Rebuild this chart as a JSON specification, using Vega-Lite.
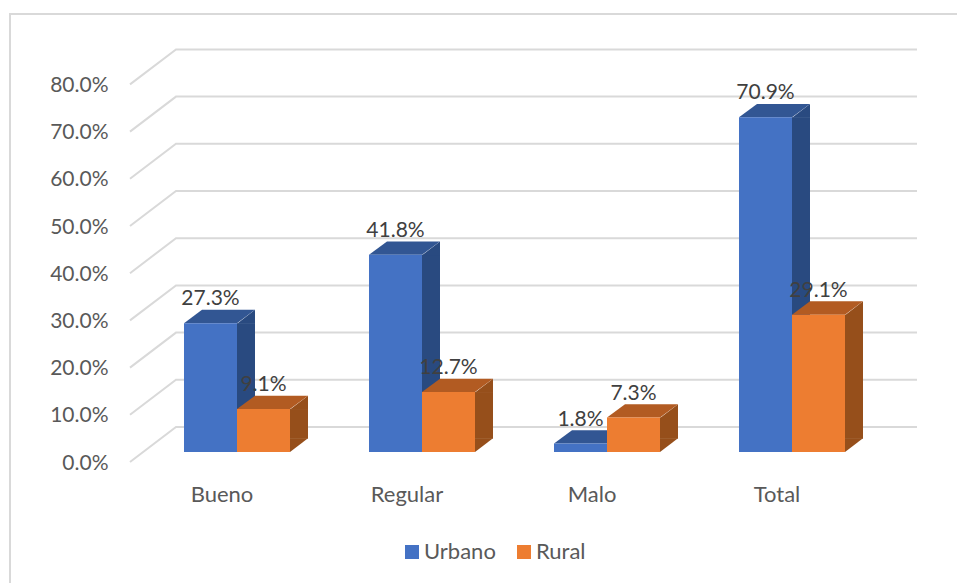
{"$schema":"https://vega.github.io/schema/vega-lite/v6.json","autosize":{"type":"none"},"padding":{"left":10,"top":14,"right":0,"bottom":0},"width":948,"height":570,"background":"white","view":{"stroke":"#D9D9D9","strokeWidth":2,"fill":"white"},"config":{"font":"Lato"},"datasets":{"bars":[{"cat":"Bueno","series":"Urbano","value":0.273},{"cat":"Bueno","series":"Rural","value":0.091},{"cat":"Regular","series":"Urbano","value":0.418},{"cat":"Regular","series":"Rural","value":0.127},{"cat":"Malo","series":"Urbano","value":0.018},{"cat":"Malo","series":"Rural","value":0.073},{"cat":"Total","series":"Urbano","value":0.709},{"cat":"Total","series":"Rural","value":0.291}],"ticks":[{"tick":0},{"tick":0.1},{"tick":0.2},{"tick":0.3},{"tick":0.4},{"tick":0.5},{"tick":0.6},{"tick":0.7},{"tick":0.8}]},"layer":[{"data":{"name":"ticks"},"mark":{"type":"point","shape":"M-107,10L-61,-25L680,-25","size":4,"filled":false,"stroke":"#D9D9D9","strokeWidth":2,"opacity":1},"encoding":{"x":{"datum":"Bueno","type":"nominal","scale":{"domain":["Bueno","Regular","Malo","Total"],"range":[134.5,874.5],"paddingInner":0.427,"paddingOuter":0.2135},"axis":{"title":null,"domain":false,"ticks":false,"labelAngle":0,"labelFontSize":22,"labelColor":"#595959","labelPadding":0,"offset":-100,"labelOffset":-15,"labelFont":"Lato"}},"y":{"field":"tick","type":"quantitative","scale":{"domain":[0,0.8],"range":[438,60.4]},"axis":{"title":null,"domain":false,"ticks":false,"grid":false,"values":[0,0.1,0.2,0.3,0.4,0.5,0.6,0.7,0.8],"format":".1%","labelFontSize":21,"labelColor":"#595959","labelPadding":0,"offset":-98,"labelOffset":11,"labelFont":"Lato"}}}},{"data":{"name":"bars"},"layer":[{"transform":[{"filter":"datum.series==='Urbano'"}],"mark":{"type":"bar","width":18,"xOffset":9,"color":"#294A80"},"encoding":{"x":{"field":"cat","type":"nominal","sort":null},"y":{"field":"value","type":"quantitative"},"y2":{"datum":0.0282}}},{"transform":[{"filter":"datum.series==='Rural'"}],"mark":{"type":"bar","width":18,"xOffset":62,"color":"#964F1B"},"encoding":{"x":{"field":"cat","type":"nominal","sort":null},"y":{"field":"value","type":"quantitative"},"y2":{"datum":0.0282}}},{"mark":{"type":"point","shape":"M26.5,0.5L44.5,-13.3L44.5,0.5Z","size":4,"filled":true,"opacity":1,"strokeWidth":0},"encoding":{"x":{"field":"cat","type":"nominal","sort":null},"xOffset":{"field":"series","type":"nominal","sort":["Urbano","Rural"]},"y":{"field":"value","type":"quantitative"},"color":{"condition":{"test":"datum.series==='Urbano'","value":"#294A80"},"value":"#964F1B"}}},{"mark":{"type":"point","shape":"M26.5,0L26.5,-13.8L44.5,-13.8Z","size":4,"filled":true,"opacity":1,"strokeWidth":0},"encoding":{"x":{"field":"cat","type":"nominal","sort":null},"xOffset":{"field":"series","type":"nominal","sort":["Urbano","Rural"]},"y":{"datum":0,"type":"quantitative"},"color":{"condition":{"test":"datum.series==='Urbano'","value":"#294A80"},"value":"#964F1B"}}},{"mark":{"type":"point","shape":"M-26.5,0L26.5,0L44.5,-13.3L-8.5,-13.3Z","size":4,"filled":true,"opacity":1,"strokeWidth":0},"encoding":{"x":{"field":"cat","type":"nominal","sort":null},"xOffset":{"field":"series","type":"nominal","sort":["Urbano","Rural"]},"y":{"field":"value","type":"quantitative"},"color":{"condition":{"test":"datum.series==='Urbano'","value":"#325693"},"value":"#B25B22"}}},{"mark":{"type":"bar","width":53},"encoding":{"x":{"field":"cat","type":"nominal","sort":null},"xOffset":{"field":"series","type":"nominal","sort":["Urbano","Rural"]},"y":{"field":"value","type":"quantitative"},"y2":{"datum":0},"fill":{"field":"series","type":"nominal","scale":{"domain":["Urbano","Rural"],"range":["#4472C4","#ED7D31"]},"legend":{"title":null,"orient":"none","legendX":391,"legendY":527,"direction":"horizontal","symbolType":"square","symbolSize":196,"labelFontSize":22,"labelColor":"#595959","labelFont":"Lato","labelOffset":1,"columnPadding":17,"symbolStrokeWidth":0}}}},{"mark":{"type":"text","dy":-24,"fontSize":21,"color":"#404040","font":"Lato"},"encoding":{"x":{"field":"cat","type":"nominal","sort":null},"xOffset":{"field":"series","type":"nominal","sort":["Urbano","Rural"]},"y":{"field":"value","type":"quantitative"},"text":{"field":"value","type":"quantitative","format":".1%"}}}]}]}
